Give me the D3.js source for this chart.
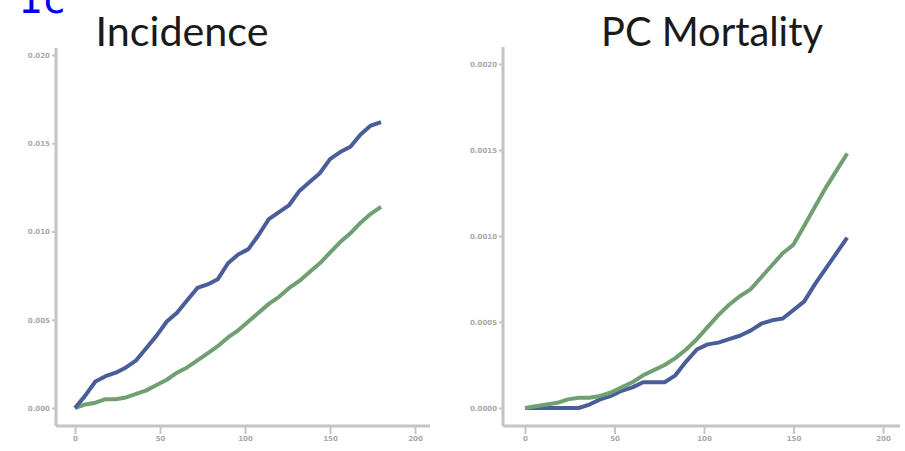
<!DOCTYPE html>
<html><head><meta charset="utf-8">
<script src="https://cdn.jsdelivr.net/npm/d3@7"></script>
<style>body{margin:0;background:#fff}svg{display:block}</style>
</head><body>
<script>
// ---- data ----
const months = [0,6,12,18,24,30,36,42,48,54,60,66,72,78,84,90,96,102,108,114,120,126,132,138,144,150,156,162,168,174,180];
const incidenceBlue = [0,0.0007,0.0015,0.0018,0.0020,0.0023,0.0027,0.0034,0.0041,0.0049,0.0054,0.0061,0.0068,0.0070,0.0073,0.0082,0.0087,0.0090,0.0098,0.0107,0.0111,0.0115,0.0123,0.0128,0.0133,0.0141,0.0145,0.0148,0.0155,0.0160,0.0162];
const incidenceGreen = [0,0.0002,0.0003,0.0005,0.0005,0.0006,0.0008,0.0010,0.0013,0.0016,0.0020,0.0023,0.0027,0.0031,0.0035,0.0040,0.0044,0.0049,0.0054,0.0059,0.0063,0.0068,0.0072,0.0077,0.0082,0.0088,0.0094,0.0099,0.0105,0.0110,0.0114];
const mortalityBlue = [0,0,0,0,0,0,0.00002,0.00005,0.00007,0.00010,0.00012,0.00015,0.00015,0.00015,0.00019,0.00027,0.00034,0.00037,0.00038,0.00040,0.00042,0.00045,0.00049,0.00051,0.00052,0.00057,0.00062,0.00072,0.00081,0.00090,0.00099];
const mortalityGreen = [0,0.00001,0.00002,0.00003,0.00005,0.00006,0.00006,0.00007,0.00009,0.00012,0.00015,0.00019,0.00022,0.00025,0.00029,0.00034,0.00040,0.00047,0.00054,0.00060,0.00065,0.00069,0.00076,0.00083,0.00090,0.00095,0.00106,0.00117,0.00128,0.00138,0.00148];
const xTicks = [0,50,100,150,200];
const xTickLabels = ["0","50","100","150","200"];
const incidenceTicks = [0,0.005,0.010,0.015,0.020];
const incidenceTickLabels = ["0.000","0.005","0.010","0.015","0.020"];
const mortalityTicks = [0,0.0005,0.0010,0.0015,0.0020];
const mortalityTickLabels = ["0.0000","0.0005","0.0010","0.0015","0.0020"];
const titles = ["Incidence","PC Mortality"];

const W=905,H=451;
const svg=d3.select("body").append("svg").attr("width",W).attr("height",H);
const defs=svg.append("defs");
defs.append("filter").attr("id","soft").append("feGaussianBlur").attr("stdDeviation",0.7);

const blue="#4a5d98", green="#6f9f72", axisCol="#c4c4c4", labCol="#a8a8a8";

svg.append("text").attr("x",18).attr("y",13).attr("font-family","DejaVu Sans Mono")
  .attr("font-size",40).attr("fill","#0000ee").text("1c");

function panel(cfg){
  const x=d3.scaleLinear().domain([0,200]).range(cfg.xr);
  const y=d3.scaleLinear().domain([cfg.yticks[0],cfg.yticks[4]]).range(cfg.yr);
  const g=svg.append("g");
  // axis lines
  g.append("line").attr("x1",cfg.ax).attr("x2",cfg.ax).attr("y1",cfg.yTop).attr("y2",cfg.ay)
    .attr("stroke",axisCol).attr("stroke-width",3);
  g.append("line").attr("x1",cfg.ax).attr("x2",cfg.xEnd).attr("y1",cfg.ay).attr("y2",cfg.ay)
    .attr("stroke",axisCol).attr("stroke-width",3);
  const ya=d3.axisLeft(y).tickValues(cfg.yticks).tickFormat((d,i)=>cfg.ylabels[i]).tickSize(3).tickPadding(2);
  const yg=g.append("g").attr("transform",`translate(${cfg.ax-1},0)`).call(ya);
  yg.select(".domain").remove();
  yg.selectAll("line").attr("stroke",axisCol).attr("stroke-width",2);
  yg.selectAll("text").attr("fill",labCol).attr("font-size",7).attr("font-family","DejaVu Sans").attr("font-weight","bold");
  const xa=d3.axisBottom(x).tickValues(xTicks).tickFormat((d,i)=>xTickLabels[i]).tickSize(8).tickPadding(2);
  const xg=g.append("g").attr("transform",`translate(0,${cfg.ay})`).call(xa);
  xg.select(".domain").remove();
  xg.selectAll("line").attr("stroke",axisCol).attr("stroke-width",2);
  xg.selectAll("text").attr("fill",labCol).attr("font-size",7).attr("font-family","DejaVu Sans").attr("font-weight","bold");
  const line=d3.line().x((d,i)=>x(months[i])).y(d=>y(d));
  cfg.series.forEach(s=>{
    g.append("path").datum(s.v).attr("d",line).attr("fill","none").attr("stroke",s.c)
      .attr("stroke-width",4).attr("stroke-linejoin","round").attr("filter","url(#soft)");
  });
  svg.append("text").attr("x",cfg.tx).attr("y",46).attr("text-anchor","middle")
    .attr("font-family","Lato").attr("font-size",40).attr("fill","#1a1a1a")
    .attr("textLength",cfg.tl).attr("lengthAdjust","spacingAndGlyphs").text(cfg.title);
}

panel({xr:[75,415],yr:[408,55],ax:56,ay:426,yTop:48,xEnd:430,yticks:incidenceTicks,ylabels:incidenceTickLabels,
  series:[{v:incidenceGreen,c:green},{v:incidenceBlue,c:blue}],title:titles[0],tx:182,tl:173});
panel({xr:[525,883],yr:[408,64],ax:503,ay:426,yTop:47,xEnd:900,yticks:mortalityTicks,ylabels:mortalityTickLabels,
  series:[{v:mortalityBlue,c:blue},{v:mortalityGreen,c:green}],title:titles[1],tx:712,tl:222});
</script>
</body></html>
